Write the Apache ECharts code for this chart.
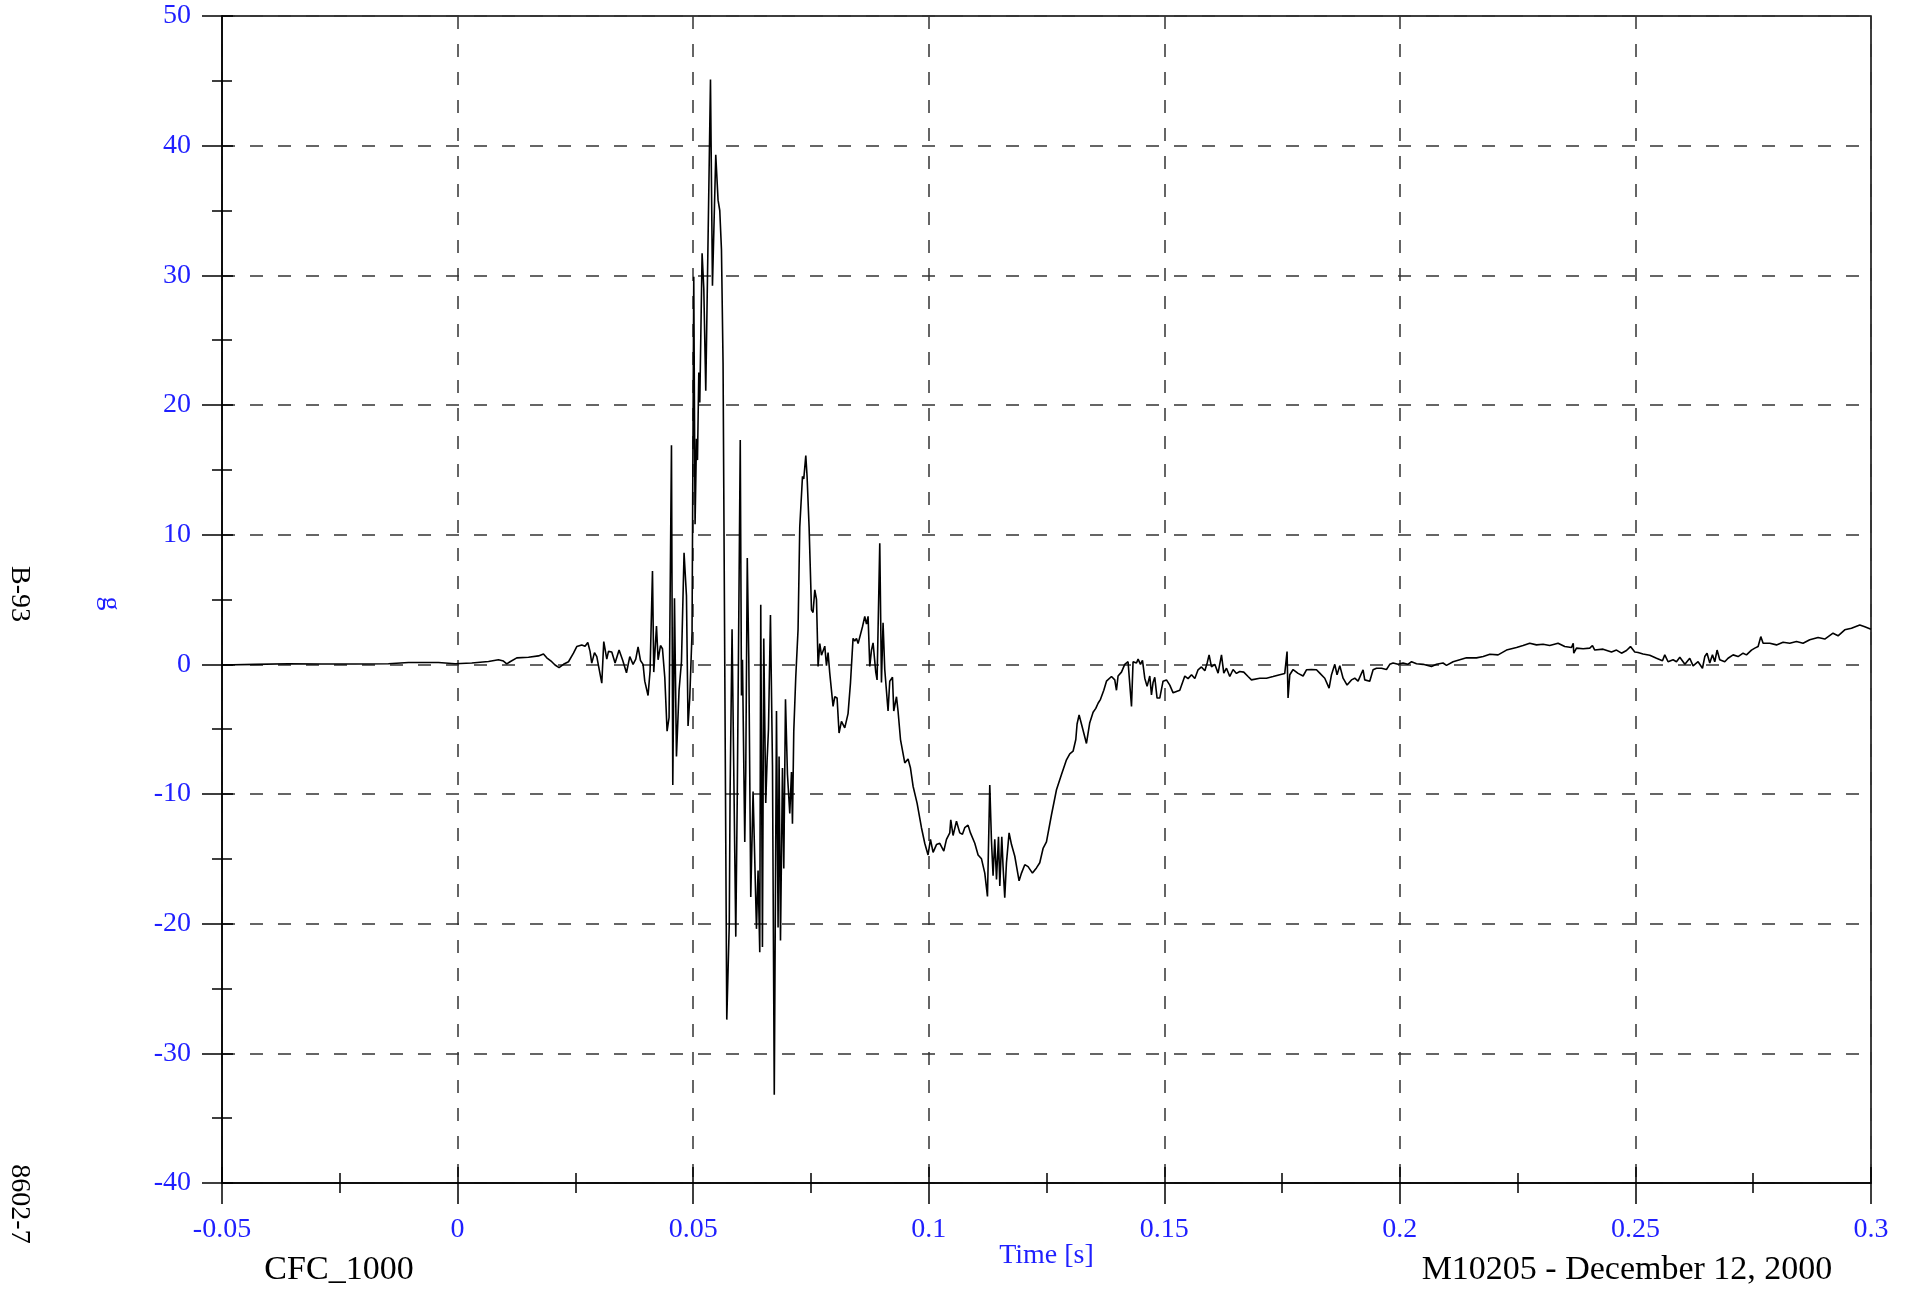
<!DOCTYPE html>
<html>
<head>
<meta charset="utf-8">
<script src="https://cdn.jsdelivr.net/npm/echarts@6/dist/echarts.min.js"></script>
<style>
html,body{margin:0;padding:0;background:#fff;}
#chart{width:1914px;height:1292px;}
</style>
</head>
<body>
<div id="chart"></div>
<script>
// Time [s]
const time = [
-0.05,-0.04294,-0.03589,-0.02882,-0.02176,-0.01467,-0.01042,-0.00405,-0.00053,0.00301,
0.00656,0.00868,0.00974,0.01044,0.01114,0.01257,0.01505,0.01717,0.01823,0.01893,
0.01999,0.02069,0.02154,0.02248,0.02354,0.0246,0.0253,0.02636,0.02706,0.02764,
0.02812,0.02848,0.02906,0.02955,0.02991,0.03061,0.03103,0.03167,0.03203,0.03273,
0.03343,0.03428,0.03506,0.03585,0.03655,0.03725,0.03782,0.03831,0.03882,0.03937,
0.03973,0.04043,0.04086,0.04137,0.04164,0.04222,0.04256,0.04307,0.04349,0.04398,
0.04447,0.04489,0.0454,0.04568,0.04604,0.04646,0.04701,0.04752,0.04807,0.04858,
0.04892,0.04928,0.04977,0.05013,0.05041,0.05071,0.05092,0.0512,0.05141,0.0519,
0.05226,0.05268,0.05368,0.0541,0.0548,0.05529,0.05565,0.05601,0.05635,0.05714,
0.05767,0.05784,0.05826,0.05905,0.05937,0.06,0.06026,0.06047,0.06096,0.06117,
0.06149,0.06181,0.06223,0.06272,0.06344,0.06378,0.06414,0.06435,0.06471,0.06499,
0.06541,0.06569,0.06599,0.06641,0.06684,0.06722,0.06769,0.06803,0.06824,0.06854,
0.06896,0.06924,0.0696,0.07002,0.07051,0.07087,0.07108,0.07136,0.07178,0.07227,
0.07263,0.07321,0.07348,0.07391,0.07418,0.07461,0.07512,0.07545,0.07582,0.07618,
0.07652,0.07688,0.07724,0.07794,0.0783,0.07864,0.079,0.0797,0.08006,0.08055,
0.08097,0.08148,0.08218,0.08288,0.08339,0.08394,0.0843,0.08467,0.08501,0.08537,
0.08594,0.08643,0.08679,0.08713,0.08749,0.08785,0.08819,0.08876,0.08904,0.08961,
0.08997,0.09031,0.09067,0.09137,0.09173,0.09231,0.09258,0.09316,0.09349,0.09401,
0.09492,0.09562,0.09613,0.09668,0.09753,0.09846,0.09916,0.09986,0.10037,0.10093,
0.10165,0.10235,0.1032,0.10377,0.10447,0.10468,0.10517,0.10589,0.10659,0.10716,
0.10765,0.10835,0.10886,0.10978,0.11048,0.1112,0.1119,0.11247,0.11296,0.11332,
0.11366,0.11402,0.11439,0.11481,0.11509,0.11551,0.11578,0.11614,0.1165,0.11706,
0.11757,0.11827,0.11918,0.11969,0.12039,0.12109,0.12202,0.12287,0.12357,0.12427,
0.12499,0.12606,0.12712,0.12818,0.12924,0.12994,0.13064,0.13122,0.13149,0.13192,
0.13242,0.13291,0.13348,0.13418,0.13489,0.13546,0.13595,0.13646,0.13716,0.13773,
0.13879,0.13949,0.13985,0.14019,0.14091,0.14161,0.14231,0.14304,0.14337,0.1441,
0.14444,0.14495,0.14537,0.14586,0.14635,0.14692,0.14728,0.14762,0.14798,0.14847,
0.14904,0.14974,0.15046,0.15117,0.15187,0.15329,0.15436,0.15505,0.15578,0.15648,
0.15717,0.15789,0.15861,0.1591,0.15951,0.16002,0.16072,0.16142,0.16214,0.16263,
0.1632,0.1639,0.1646,0.16532,0.16602,0.16687,0.16778,0.1685,0.17027,0.17169,
0.17309,0.17451,0.17557,0.17606,0.17627,0.17664,0.17734,0.1784,0.17946,0.18018,
0.18124,0.1823,0.183,0.18406,0.18498,0.18549,0.18619,0.18667,0.18725,0.18795,
0.1888,0.18973,0.19043,0.19113,0.19219,0.19255,0.19361,0.19397,0.19432,0.19504,
0.1961,0.19716,0.19786,0.19856,0.19962,0.20068,0.20168,0.20248,0.20354,0.20493,
0.20672,0.20778,0.20917,0.2099,0.2113,0.21272,0.21414,0.21626,0.2177,0.21911,
0.22085,0.22263,0.22476,0.22615,0.22757,0.22899,0.2304,0.23181,0.23358,0.235,
0.23643,0.2368,0.23691,0.23749,0.2389,0.24031,0.24088,0.24137,0.24313,0.24492,
0.24598,0.24704,0.2481,0.24895,0.24986,0.25056,0.25162,0.25304,0.25447,0.25574,
0.25623,0.25693,0.25799,0.25871,0.25942,0.2605,0.26153,0.26224,0.2633,0.26423,
0.26472,0.2652,0.26578,0.26635,0.26684,0.26733,0.2679,0.26896,0.26966,0.27073,
0.27179,0.27285,0.27357,0.27463,0.27534,0.27604,0.27661,0.2771,0.27852,0.27994,
0.28134,0.28276,0.28418,0.28558,0.287,0.28877,0.29019,0.29194,0.29301,0.29443,
0.29585,0.29762,0.29868,0.3
];
// Acceleration [g]
const accel = [
-0.05,0.0,0.04,0.02,0.03,0.05,0.14,0.14,0.05,0.1,
0.22,0.35,0.25,0.04,0.2,0.5,0.55,0.65,0.8,0.5,
0.2,-0.05,-0.25,0.0,0.2,0.86,1.37,1.5,1.4,1.68,
1.0,0.09,0.9,0.6,0.75,-1.45,1.76,0.4,1.0,0.95,
0.1,1.1,0.3,-0.65,0.6,0.0,0.4,1.35,0.3,0.0,
-1.3,-2.4,-0.5,7.2,-0.6,2.96,0.35,1.45,1.2,-1.0,
-5.15,-4.1,16.9,-9.3,5.1,-7.1,-2.0,0.2,8.6,5.3,
-4.75,-2.6,2.5,29.9,10.8,17.4,15.75,22.5,20.2,31.7,
29.0,21.1,45.1,29.2,39.3,35.8,35.0,32.0,23.2,-27.4,
-20.0,-10.0,2.7,-21.0,-10.0,17.3,-2.4,0.35,-13.7,-8.2,
8.2,0.5,-17.95,-9.8,-20.4,-15.9,-22.2,4.6,-21.8,2.0,
-10.7,-7.5,-5.0,3.8,-7.8,-33.2,-3.6,-20.3,-7.1,-21.3,
-8.0,-15.75,-2.7,-8.5,-11.5,-8.3,-12.3,-5.15,-1.0,2.7,
10.6,14.5,14.3,16.1,14.5,10.6,4.2,4.0,5.74,5.0,
-0.17,1.6,0.7,1.4,-0.1,0.9,-0.7,-3.25,-2.5,-2.6,
-5.3,-4.4,-4.9,-3.8,-1.45,2.0,1.8,2.0,1.6,1.7,
2.9,3.7,3.1,3.7,-0.17,1.1,1.65,-0.6,-1.2,9.34,
-1.4,3.2,-0.4,-3.6,-1.3,-1.0,-3.6,-2.5,-3.6,-5.8,
-7.6,-7.3,-8.0,-9.4,-10.7,-12.6,-13.8,-14.7,-13.5,-14.5,
-13.9,-13.8,-14.4,-13.5,-13.0,-12.0,-13.2,-12.1,-13.0,-13.1,
-12.6,-12.4,-13.0,-13.8,-14.7,-15.0,-16.1,-17.9,-9.3,-13.6,
-16.3,-13.5,-16.6,-13.3,-17.1,-13.3,-15.6,-18.0,-15.3,-13.0,
-13.9,-14.8,-16.7,-16.1,-15.45,-15.6,-16.1,-15.7,-15.3,-14.2,
-13.7,-11.6,-9.67,-8.5,-7.36,-6.9,-6.7,-5.8,-4.6,-3.9,
-4.6,-5.3,-6.1,-4.5,-3.7,-3.4,-3.0,-2.7,-2.0,-1.3,
-0.94,-1.2,-2.0,-0.9,-0.6,0.0,0.2,-3.25,0.2,0.1,
0.4,0.0,0.3,-1.07,-1.7,-0.9,-2.35,-1.4,-1.0,-2.6,
-2.6,-1.3,-1.2,-1.6,-2.2,-2.0,-0.9,-1.1,-0.8,-1.1,
-0.42,-0.2,-0.5,0.1,0.73,-0.2,0.0,-0.68,0.73,-0.68,
-0.3,-0.94,-0.4,-0.7,-0.55,-0.6,-0.94,-1.2,-1.07,-1.07,
-0.94,-0.8,-0.7,0.99,-2.6,-0.8,-0.4,-0.7,-0.9,-0.42,
-0.4,-0.42,-0.68,-1.07,-1.84,-0.8,0.0,-0.8,-0.1,-1.07,
-1.6,-1.2,-1.07,-1.3,-0.42,-1.2,-1.3,-1.2,-0.42,-0.3,
-0.3,-0.4,0.0,0.1,0.0,0.1,0.0,0.2,0.05,0.0,
-0.17,0.0,0.1,-0.08,0.2,0.35,0.5,0.5,0.6,0.78,
0.73,1.1,1.3,1.45,1.63,1.5,1.55,1.45,1.63,1.37,
1.3,1.63,0.86,1.25,1.2,1.25,1.45,1.1,1.17,0.95,
1.1,0.86,1.07,1.37,0.95,0.91,0.8,0.7,0.47,0.27,
0.73,0.2,0.35,0.2,0.55,0.0,0.47,-0.12,0.2,-0.3,
0.6,0.86,0.1,0.73,0.2,1.1,0.35,0.2,0.47,0.73,
0.6,0.86,0.73,1.1,1.25,1.37,2.14,1.63,1.63,1.5,
1.7,1.63,1.76,1.63,1.89,2.07,1.95,2.4,2.2,2.66,
2.79,3.04,2.9,2.71
];

const xTickLabels = ['-0.05','0','0.05','0.1','0.15','0.2','0.25','0.3'];
const yTickLabels = ['-40','-30','-20','-10','0','10','20','30','40','50'];

const n = Math.min(time.length, accel.length);
const seriesData = [];
for (let i = 0; i < n; i++) seriesData.push([time[i], accel[i]]);

const FONT = 'Liberation Serif';
const BLUE = '#1f1fff';
const gridDash = {color: '#333333', width: 1.5, type: [13, 15]};

const chart = echarts.init(document.getElementById('chart'), null, {renderer: 'canvas'});
chart.setOption({
  animation: false,
  backgroundColor: '#ffffff',
  grid: {left: 222, right: 43, top: 16, bottom: 109, show: true, borderColor: '#000', borderWidth: 1.5, backgroundColor: 'transparent'},
  xAxis: [{
    type: 'value', min: -0.05, max: 0.3, interval: 0.05, position: 'bottom',
    name: 'Time [s]', nameLocation: 'middle', nameGap: 59, nameMoveOverlap: false,
    nameTextStyle: {color: BLUE, fontFamily: FONT, fontSize: 28},
    axisLine: {show: true, onZero: false, lineStyle: {color: '#000', width: 1.5}},
    axisTick: {show: true, inside: false, length: 21, lineStyle: {color: '#000', width: 1.5}},
    minorTick: {show: true, splitNumber: 2, length: 10, lineStyle: {color: '#000', width: 1.5}},
    axisLabel: {color: BLUE, fontFamily: FONT, fontSize: 28, margin: 33,
      formatter: function (v) { return xTickLabels[Math.round((v + 0.05) / 0.05)]; }},
    splitLine: {show: true, lineStyle: gridDash}
  }, {
    type: 'value', min: -0.05, max: 0.3, interval: 0.05, position: 'bottom',
    axisLine: {show: false, onZero: false},
    axisTick: {show: true, inside: true, length: 16, lineStyle: {color: '#000', width: 1.5}},
    minorTick: {show: true, splitNumber: 2, length: 10, lineStyle: {color: '#000', width: 1.5}},
    axisLabel: {show: false},
    splitLine: {show: false}
  }],
  yAxis: [{
    type: 'value', min: -40, max: 50, interval: 10, position: 'left',
    name: 'g', nameLocation: 'middle', nameGap: 98, nameRotate: -90,
    nameTextStyle: {color: BLUE, fontFamily: FONT, fontSize: 28, padding: [0, 0, 0, 8]},
    axisLine: {show: true, onZero: false, lineStyle: {color: '#000', width: 1.5}},
    axisTick: {show: true, inside: false, length: 20, lineStyle: {color: '#000', width: 1.5}},
    minorTick: {show: true, splitNumber: 2, length: 10, lineStyle: {color: '#000', width: 1.5}},
    axisLabel: {color: BLUE, fontFamily: FONT, fontSize: 28, margin: 31,
      formatter: function (v) { return yTickLabels[Math.round((v + 40) / 10)]; }},
    splitLine: {show: true, lineStyle: gridDash}
  }, {
    type: 'value', min: -40, max: 50, interval: 10, position: 'left', offset: 0,
    axisLine: {show: false, onZero: false},
    axisTick: {show: true, inside: true, length: 11, lineStyle: {color: '#000', width: 1.5}},
    minorTick: {show: true, splitNumber: 2, length: 10, lineStyle: {color: '#000', width: 1.5}},
    axisLabel: {show: false},
    splitLine: {show: false}
  }],
  series: [{
    type: 'line', xAxisIndex: 0, yAxisIndex: 0, data: seriesData,
    showSymbol: false, symbol: 'none', sampling: null, z: 5,
    lineStyle: {color: '#000', width: 1.6}
  }],
  graphic: [
    {type: 'text', x: 19, y: 594, rotation: -Math.PI / 2,
      style: {text: 'B-93', font: '28px "' + FONT + '"', fill: '#000', align: 'center', verticalAlign: 'middle'}},
    {type: 'text', x: 19, y: 1204, rotation: -Math.PI / 2,
      style: {text: '8602-7', font: '28px "' + FONT + '"', fill: '#000', align: 'center', verticalAlign: 'middle'}},
    {type: 'text', x: 339, y: 1270,
      style: {text: 'CFC_1000', font: '34px "' + FONT + '"', fill: '#000', align: 'center', verticalAlign: 'middle'}},
    {type: 'text', x: 1627, y: 1270,
      style: {text: 'M10205 - December 12, 2000', font: '34px "' + FONT + '"', fill: '#000', align: 'center', verticalAlign: 'middle'}}
  ]
});
</script>
</body>
</html>
